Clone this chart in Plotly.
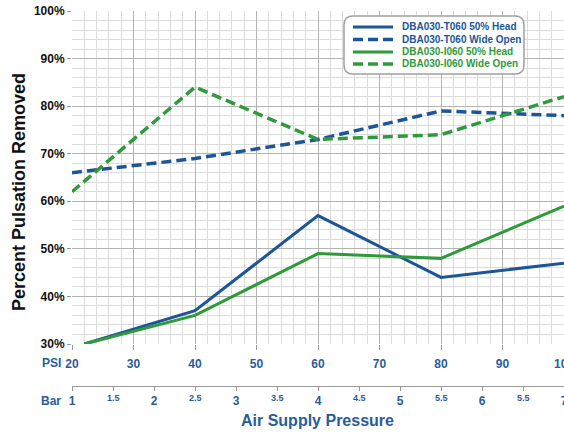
import plotly.graph_objects as go

# ---------------- data ----------------
SERIES_NAMES = ["DBA030-T060 50% Head", "DBA030-T060 Wide Open",
                "DBA030-I060 50% Head", "DBA030-I060 Wide Open"]
T060_HEAD_PSI = [22, 40, 60, 80, 100]
T060_HEAD_PCT = [30, 37, 57, 44, 47]
T060_OPEN_PSI = [20, 40, 60, 80, 100]
T060_OPEN_PCT = [66, 69, 73, 79, 78]
I060_HEAD_PSI = [22, 40, 60, 80, 100]
I060_HEAD_PCT = [30, 36, 49, 48, 59]
I060_OPEN_PSI = [20, 40, 60, 80, 100]
I060_OPEN_PCT = [62, 84, 73, 74, 82]

PSI_TICKS = [20, 30, 40, 50, 60, 70, 80, 90, 100]
PCT_TICKS = [30, 40, 50, 60, 70, 80, 90, 100]
BAR_VALUES = [1, 1.5, 2, 2.5, 3, 3.5, 4, 4.5, 5, 5.5, 6, 6.5, 7]
BAR_LABELS = ["1", "1.5", "2", "2.5", "3", "3.5", "4", "4.5", "5", "5.5", "6", "5.5", "7"]

# ---------------- style ----------------
W, H = 564, 434
ML, MR, MT, MB = 72, 0, 11, 48
PW, PH = W - ML - MR, H - MT - MB
BLUE = "#1c5699"
GREEN = "#2f9a3b"
TXT_BLUE = "#2a5c9c"
GRID = "#b3b3b3"
MINOR = "#dcdcdc"
AXC = "#9a9a9a"
FONT = "Liberation Sans, Arial, sans-serif"


def fx(px):
    return (px - ML) / PW


def fy(py):
    return (H - MB - py) / PH


Y_DOMAIN_START = fy(344)

fig = go.Figure()
traces = [
    (T060_HEAD_PSI, T060_HEAD_PCT, BLUE, "solid", 3),
    (T060_OPEN_PSI, T060_OPEN_PCT, BLUE, "10px,5px", 3.5),
    (I060_HEAD_PSI, I060_HEAD_PCT, GREEN, "solid", 3),
    (I060_OPEN_PSI, I060_OPEN_PCT, GREEN, "10px,5px", 3.5),
]
for (xs, ys, col, dash, w), name in zip(traces, SERIES_NAMES):
    fig.add_trace(go.Scatter(x=xs, y=ys, mode="lines", name=name,
                             line=dict(color=col, dash=dash, width=w),
                             showlegend=False))

shapes = []
annotations = []

# legend box (rounded)
x0, x1, y0, y1, r = 344, 524, 16, 74, 9
pts = [("M", x0 + r, y0), ("L", x1 - r, y0), ("Q", x1, y0, x1, y0 + r),
       ("L", x1, y1 - r), ("Q", x1, y1, x1 - r, y1), ("L", x0 + r, y1),
       ("Q", x0, y1, x0, y1 - r), ("L", x0, y0 + r), ("Q", x0, y0, x0 + r, y0)]
path = ""
for p in pts:
    cmd = p[0]
    coords = p[1:]
    seg = []
    for i in range(0, len(coords), 2):
        seg.append(f"{fx(coords[i]):.5f},{fy(coords[i+1]):.5f}")
    path += cmd + " " + " ".join(seg) + " "
path += "Z"
shapes.append(dict(type="path", path=path, xref="paper", yref="paper",
                   fillcolor="white", line=dict(color="#a0a0a0", width=1.5), layer="above"))

rows = [27, 39.5, 52, 64]
for (xs, ys, col, dash, w), name, ry in zip(traces, SERIES_NAMES, rows):
    shapes.append(dict(type="line", xref="paper", yref="paper",
                       x0=fx(353), x1=fx(393), y0=fy(ry), y1=fy(ry),
                       line=dict(color=col, width=w, dash=dash), layer="above"))
    annotations.append(dict(text=f"<b>{name}</b>", xref="paper", yref="paper",
                            x=fx(400), y=fy(ry), xanchor="left", yanchor="middle",
                            showarrow=False, font=dict(size=10, color=col, family=FONT)))

# half-bar labels (smaller, raised)
for v, lab in zip(BAR_VALUES, BAR_LABELS):
    if v != int(v):
        annotations.append(dict(text=f"<b>{lab}</b>", xref="x2", yref="paper",
                                x=v, y=fy(398), xanchor="center", yanchor="middle",
                                showarrow=False, font=dict(size=9, color=TXT_BLUE, family=FONT)))

# axis captions
annotations += [
    dict(text="<b>PSI</b>", xref="paper", yref="paper", x=fx(63), y=fy(363),
         xanchor="right", yanchor="middle", showarrow=False,
         font=dict(size=12, color=TXT_BLUE, family=FONT)),
    dict(text="<b>Bar</b>", xref="paper", yref="paper", x=fx(63), y=fy(401),
         xanchor="right", yanchor="middle", showarrow=False,
         font=dict(size=12, color=TXT_BLUE, family=FONT)),
    dict(text="<b>Air Supply Pressure</b>", xref="paper", yref="paper", x=fx(317), y=fy(420),
         xanchor="center", yanchor="middle", showarrow=False,
         font=dict(size=16, color=TXT_BLUE, family=FONT)),
    dict(text="<b>Percent Pulsation Removed</b>", xref="paper", yref="paper", x=fx(19), y=fy(192),
         xanchor="center", yanchor="middle", textangle=-90, showarrow=False,
         font=dict(size=18, color="#111111", family=FONT)),
    dict(text="<b>100%</b>", xref="paper", yref="paper", x=fx(59), y=fy(431),
         xanchor="right", yanchor="top", showarrow=False,
         font=dict(size=12, color="#111111", family=FONT)),
]

fig.update_layout(
    width=W, height=H,
    margin=dict(l=ML, r=MR, t=MT, b=MB, pad=0, autoexpand=False),
    paper_bgcolor="white", plot_bgcolor="white",
    font=dict(family=FONT),
    showlegend=False,
    shapes=shapes,
    annotations=annotations,
    xaxis=dict(range=[20, 100], domain=[0, 1], anchor="y", automargin=False,
               tickmode="array", tickvals=PSI_TICKS, ticktext=[str(v) for v in PSI_TICKS],
               ticks="outside", ticklen=5, tickcolor=AXC, ticklabelstandoff=4,
               ticklabeloverflow="allow",
               showgrid=True, gridcolor=GRID, gridwidth=1,
               minor=dict(tick0=20, dtick=2, showgrid=True, gridcolor=MINOR, gridwidth=1),
               showline=False, zeroline=False,
               tickfont=dict(size=12, color=TXT_BLUE, family=FONT, weight="bold")),
    xaxis2=dict(overlaying="x", anchor="free", position=0, side="bottom", automargin=False,
                range=[1, 7], tickmode="array", tickvals=BAR_VALUES,
                ticktext=[lab if v == int(v) else "" for v, lab in zip(BAR_VALUES, BAR_LABELS)],
                ticks="outside", ticklen=4, tickcolor=AXC, ticklabeloverflow="allow",
                showline=True, linecolor=AXC, linewidth=1,
                showgrid=False, zeroline=False,
                tickfont=dict(size=12, color=TXT_BLUE, family=FONT, weight="bold")),
    yaxis=dict(range=[30, 100], domain=[Y_DOMAIN_START, 1], automargin=False,
               tickmode="array", tickvals=PCT_TICKS, ticktext=[f"{v}%" for v in PCT_TICKS],
               ticks="outside", ticklen=4, tickcolor=AXC,
               showgrid=True, gridcolor=GRID, gridwidth=1,
               minor=dict(tick0=30, dtick=2, showgrid=True, gridcolor=MINOR, gridwidth=1),
               showline=False, zeroline=False,
               tickfont=dict(size=12, color="#111111", family=FONT, weight="bold")),
)

fig.write_html("out.html", config={"displayModeBar": False},
               post_script="document.body.style.margin='0';document.body.style.overflow='hidden';")
